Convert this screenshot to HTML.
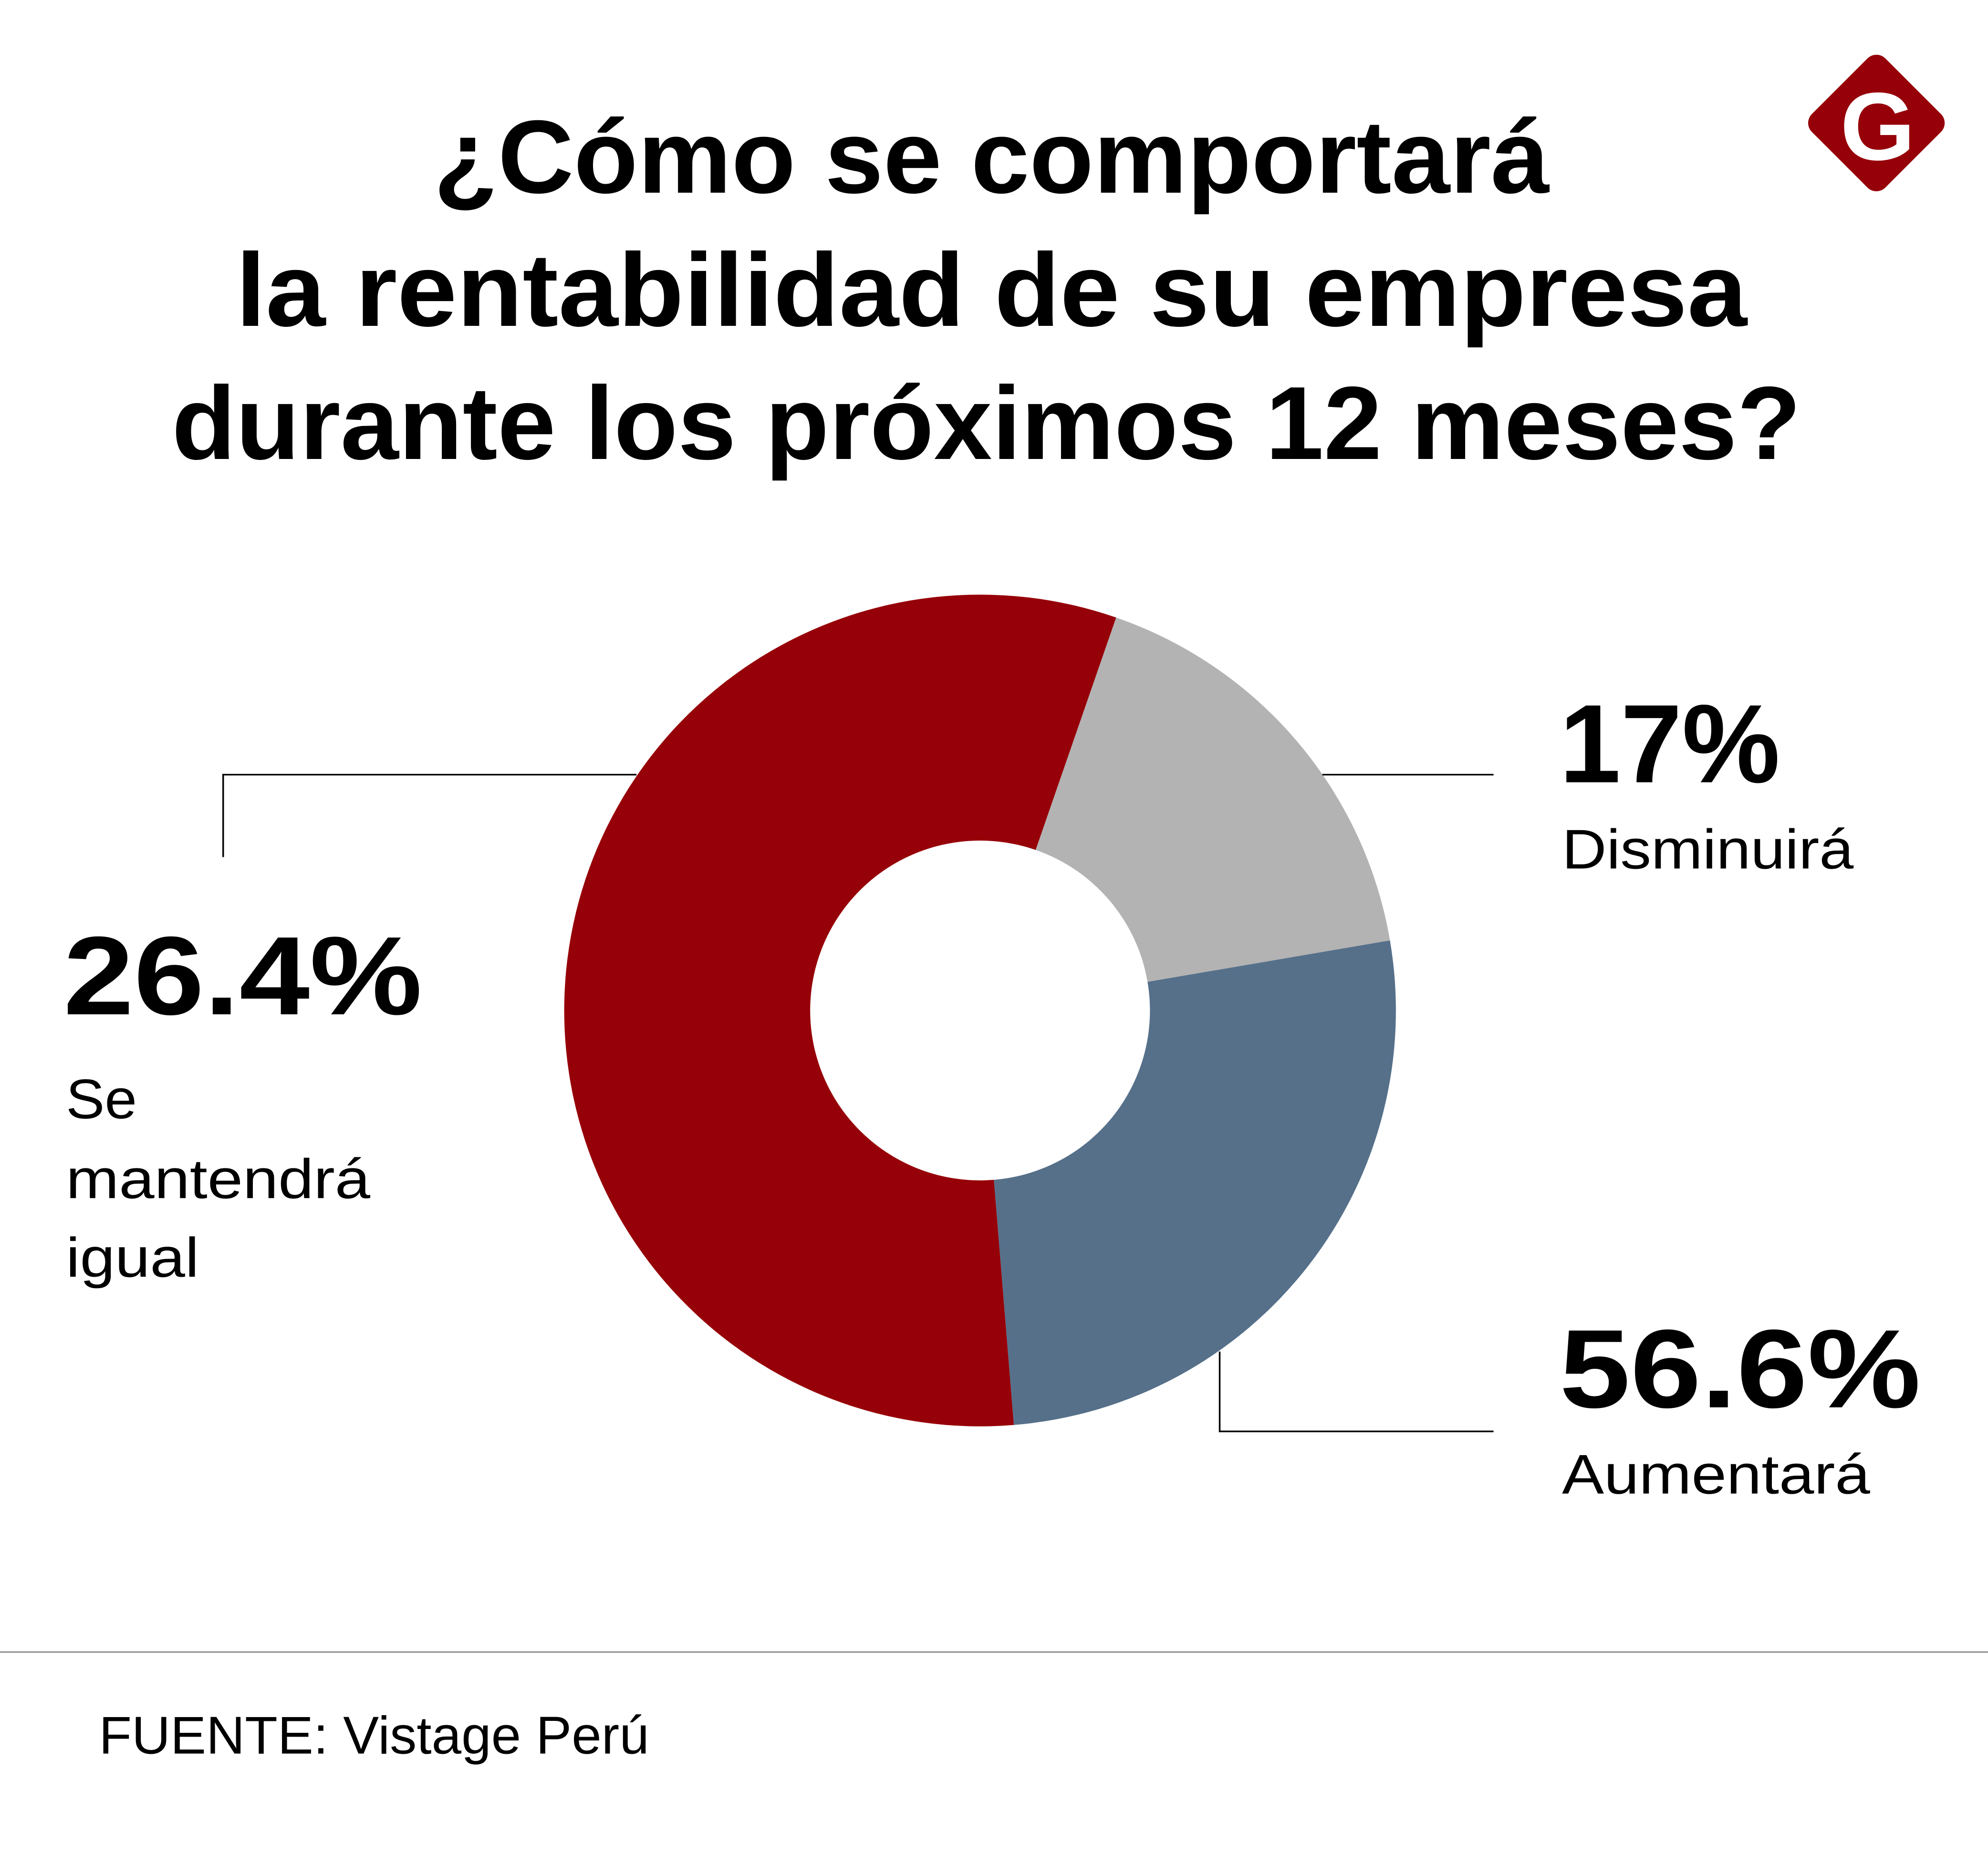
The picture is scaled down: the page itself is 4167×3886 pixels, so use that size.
<!DOCTYPE html>
<html><head><meta charset="utf-8"><style>
html,body{margin:0;padding:0;background:#fff}
svg{display:block}
text{font-family:"Liberation Sans",sans-serif}
</style></head><body>
<svg id="chart" width="4167" height="3886" viewBox="0 0 1568 1462.3" xmlns="http://www.w3.org/2000/svg">
<rect width="1568" height="1462.3" fill="#fff"/>
<g font-weight="bold" fill="#000" text-anchor="middle" font-size="82">
<text x="782" y="152" textLength="880" lengthAdjust="spacingAndGlyphs">¿Cómo se comportará</text>
<text x="782" y="257" textLength="1192" lengthAdjust="spacingAndGlyphs">la rentabilidad de su empresa</text>
<text x="778" y="362" textLength="1285" lengthAdjust="spacingAndGlyphs">durante los próximos 12 meses?</text>
</g>
<g>
<rect x="1439" y="56" width="82" height="82" rx="10" fill="#960008" transform="rotate(45 1480 97)"/>
<text x="1481" y="126" font-family="Liberation Serif,serif" font-weight="bold" font-size="76" fill="#fff" text-anchor="middle">G</text>
</g>
<g id="slices"></g>
<g stroke="#000" stroke-width="1.3" fill="none">
<polyline points="176,676 176,611 502,611"/>
<polyline points="1043,611 1178,611"/>
<polyline points="962,1066 962,1129 1178,1129"/>
</g>
<g>
<text x="1230" y="617" font-size="88" font-weight="bold" textLength="174" lengthAdjust="spacingAndGlyphs">17%</text>
<text x="1232" y="685" font-size="44" textLength="230" lengthAdjust="spacingAndGlyphs">Disminuirá</text>
</g>
<g>
<text x="50" y="800" font-size="88" font-weight="bold" textLength="283" lengthAdjust="spacingAndGlyphs">26.4%</text>
<text x="52" y="882" font-size="44" textLength="56" lengthAdjust="spacingAndGlyphs">Se</text>
<text x="52" y="945" font-size="44" textLength="240" lengthAdjust="spacingAndGlyphs">mantendrá</text>
<text x="52" y="1007" font-size="44" textLength="105" lengthAdjust="spacingAndGlyphs">igual</text>
</g>
<g>
<text x="1230" y="1110" font-size="88" font-weight="bold" textLength="285" lengthAdjust="spacingAndGlyphs">56.6%</text>
<text x="1232" y="1178" font-size="44" textLength="243" lengthAdjust="spacingAndGlyphs">Aumentará</text>
</g>
<line x1="0" y1="1303" x2="1568" y2="1303" stroke="#999" stroke-width="1.3"/>
<text x="78" y="1383" font-size="42" textLength="434" lengthAdjust="spacingAndGlyphs">FUENTE: Vistage Perú</text>
</svg>
<script>
const categories = ["Disminuirá", "Se mantendrá igual", "Aumentará"];
const values = [17, 26.4, 56.6];
const colors = ["#b3b3b3", "#56708a", "#960008"];
const startDeg = 19.1;
(function(){
  const cx=773, cy=797, R=328, r=134;
  const g=document.getElementById('slices');
  const total=values.reduce((a,b)=>a+b,0);
  let a=startDeg;
  const pt=(deg,rad)=>{const t=deg*Math.PI/180;return [cx+rad*Math.sin(t), cy-rad*Math.cos(t)];};
  values.forEach((v,i)=>{
    const span=v/total*360, b=a+span, big=span>180?1:0;
    const [x1,y1]=pt(a,R),[x2,y2]=pt(b,R),[x3,y3]=pt(b,r),[x4,y4]=pt(a,r);
    const p=document.createElementNS('http://www.w3.org/2000/svg','path');
    p.setAttribute('d',`M${x1},${y1}A${R},${R} 0 ${big} 1 ${x2},${y2}L${x3},${y3}A${r},${r} 0 ${big} 0 ${x4},${y4}Z`);
    p.setAttribute('fill',colors[i]);
    
    
    g.appendChild(p);
    a=b;
  });
})();
</script>
</body></html>
